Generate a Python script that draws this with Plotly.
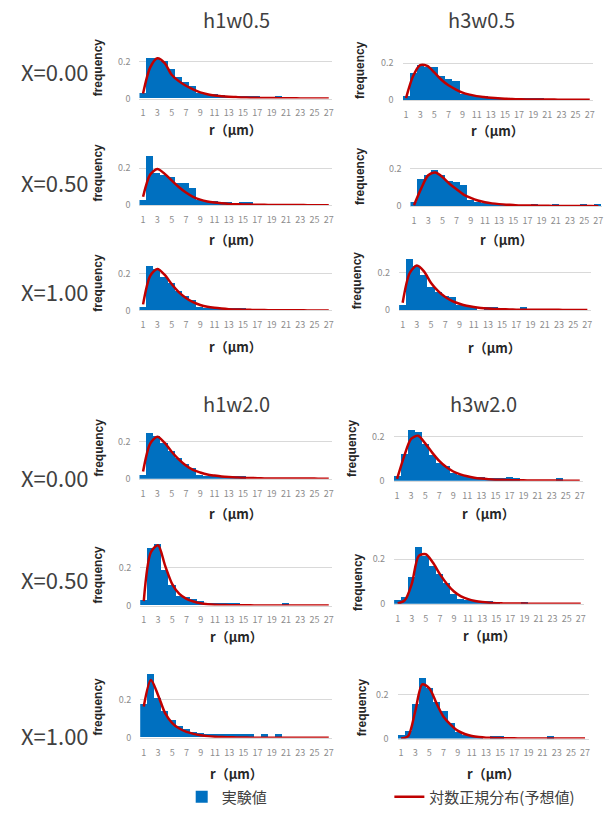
import plotly.graph_objects as go

# ---------------- data ----------------
r_um = list(range(1, 28))
tick_vals = list(range(1, 28, 2))
tick_text = [str(v) for v in tick_vals]

col_titles = ["h1w0.5", "h3w0.5", "h1w2.0", "h3w2.0"]
row_labels = ["X=0.00", "X=0.50", "X=1.00"]
bar_name = "実験値"
line_name = "対数正規分布(予想値)"

# measured frequency (bars)
h1w05_x000 = [0.029, 0.22, 0.22, 0.20, 0.159, 0.117, 0.09, 0.068, 0.029, 0.022, 0.02, 0.018, 0.014, 0.014,
              0.014, 0.014, 0.014, 0, 0, 0.014, 0, 0, 0, 0, 0, 0, 0]
h3w05_x000 = [0.025, 0.146, 0.19, 0.178, 0.178, 0.133, 0.117, 0.103, 0.034, 0.029, 0.02, 0.02, 0.013, 0.013,
              0.013, 0.013, 0.013, 0.013, 0.013, 0.013, 0, 0, 0, 0, 0, 0, 0]
h1w05_x050 = [0.025, 0.26, 0.17, 0.16, 0.15, 0.116, 0.116, 0.09, 0.025, 0.018, 0.018, 0.014, 0.014, 0,
              0.014, 0.014, 0, 0, 0, 0, 0, 0, 0, 0, 0, 0, 0]
h3w05_x050 = [0.023, 0.143, 0.168, 0.195, 0.165, 0.133, 0.129, 0.111, 0.032, 0.023, 0.018, 0.014, 0.011, 0.011,
              0.011, 0, 0, 0.011, 0, 0, 0.011, 0, 0, 0, 0.011, 0, 0.011]
h1w05_x100 = [0.018, 0.247, 0.229, 0.187, 0.151, 0.109, 0.082, 0.058, 0.018, 0.013, 0.013, 0.013, 0.013, 0.013,
              0.013, 0, 0, 0, 0, 0, 0, 0, 0, 0, 0, 0, 0]
h3w05_x100 = [0.025, 0.275, 0.236, 0.186, 0.123, 0.093, 0.075, 0.066, 0.025, 0.018, 0.014, 0, 0.012, 0.012,
              0, 0, 0, 0.012, 0, 0, 0, 0, 0, 0, 0, 0, 0]
h1w20_x000 = [0.02, 0.245, 0.23, 0.191, 0.15, 0.109, 0.08, 0.057, 0.02, 0.0125, 0.0125, 0.0125, 0.0125, 0.0125,
              0.0125, 0, 0, 0, 0, 0, 0, 0, 0, 0, 0, 0, 0]
h3w20_x000 = [0.023, 0.122, 0.233, 0.224, 0.167, 0.117, 0.083, 0.069, 0.038, 0.027, 0.023, 0.02, 0.017, 0.015,
              0.015, 0.015, 0.017, 0.014, 0, 0, 0, 0, 0, 0.014, 0, 0, 0]
h1w20_x050 = [0.026, 0.304, 0.325, 0.188, 0.108, 0.052, 0.043, 0.033, 0.021, 0.014, 0.014, 0.014, 0.014, 0.014,
              0, 0, 0, 0, 0, 0, 0.014, 0, 0, 0, 0, 0, 0]
h3w20_x050 = [0.018, 0.033, 0.119, 0.255, 0.215, 0.17, 0.136, 0.096, 0.044, 0.022, 0.016, 0.015, 0.015, 0.013,
              0.01, 0, 0, 0, 0.01, 0, 0, 0, 0, 0, 0, 0, 0]
h1w20_x100 = [0.174, 0.334, 0.205, 0.139, 0.092, 0.061, 0.047, 0.031, 0.021, 0.016, 0.016, 0.016, 0.016, 0.016,
              0.016, 0.016, 0, 0.016, 0, 0.016, 0, 0, 0, 0, 0, 0, 0]
h3w20_x100 = [0.015, 0.036, 0.158, 0.279, 0.23, 0.167, 0.124, 0.071, 0.03, 0.015, 0.011, 0.011, 0, 0.011,
              0.011, 0, 0, 0, 0, 0, 0, 0.011, 0, 0, 0, 0, 0]

# lognormal prediction (curve)
fit_h1w05_x000 = [0.027, 0.17, 0.22, 0.195, 0.13, 0.095, 0.07, 0.05, 0.034, 0.024, 0.017, 0.013, 0.01, 0.008,
                  0.006, 0.005, 0.004, 0.003, 0.003, 0.002, 0.002, 0.002, 0.001, 0.001, 0.001, 0.001, 0.001]
fit_h3w05_x000 = [0.01, 0.13, 0.19, 0.185, 0.15, 0.11, 0.08, 0.058, 0.04, 0.029, 0.021, 0.016, 0.012, 0.009,
                  0.007, 0.005, 0.004, 0.003, 0.003, 0.002, 0.002, 0.002, 0.001, 0.001, 0.001, 0.001, 0.001]
fit_h1w05_x050 = [0.045, 0.165, 0.195, 0.17, 0.134, 0.098, 0.068, 0.045, 0.03, 0.02, 0.014, 0.01, 0.007, 0.005,
                  0.004, 0.003, 0.002, 0.002, 0.001, 0.001, 0.001, 0.001, 0.001, 0.0, 0.0, 0.0, 0.0]
fit_h3w05_x050 = [0.005, 0.094, 0.165, 0.18, 0.156, 0.12, 0.09, 0.062, 0.044, 0.03, 0.021, 0.015, 0.011, 0.008,
                  0.006, 0.004, 0.003, 0.003, 0.002, 0.002, 0.001, 0.001, 0.001, 0.001, 0.001, 0.001, 0.0]
fit_h1w05_x100 = [0.033, 0.19, 0.227, 0.196, 0.145, 0.1, 0.068, 0.045, 0.03, 0.02, 0.014, 0.01, 0.007, 0.005,
                  0.004, 0.003, 0.002, 0.002, 0.001, 0.001, 0.001, 0.001, 0.001, 0.0, 0.0, 0.0, 0.0]
fit_h3w05_x100 = [0.039, 0.2, 0.24, 0.209, 0.146, 0.102, 0.07, 0.048, 0.034, 0.023, 0.016, 0.011, 0.008, 0.006,
                  0.004, 0.003, 0.002, 0.002, 0.001, 0.001, 0.001, 0.001, 0.001, 0.0, 0.0, 0.0, 0.0]
fit_h1w20_x000 = [0.039, 0.19, 0.227, 0.195, 0.146, 0.105, 0.072, 0.048, 0.034, 0.023, 0.017, 0.012, 0.009, 0.007,
                  0.005, 0.004, 0.003, 0.002, 0.002, 0.001, 0.001, 0.001, 0.001, 0.001, 0.001, 0.0, 0.0]
fit_h3w20_x000 = [0.008, 0.11, 0.19, 0.205, 0.17, 0.128, 0.09, 0.062, 0.042, 0.029, 0.02, 0.014, 0.01, 0.007,
                  0.005, 0.004, 0.003, 0.002, 0.002, 0.001, 0.001, 0.001, 0.001, 0.001, 0.0, 0.0, 0.0]
fit_h1w20_x050 = [0.023, 0.28, 0.317, 0.21, 0.113, 0.061, 0.035, 0.021, 0.012, 0.007, 0.004, 0.003, 0.002, 0.001,
                  0.001, 0.001, 0.0, 0.0, 0.0, 0.0, 0.0, 0.0, 0.0, 0.0, 0.0, 0.0, 0.0]
fit_h3w20_x050 = [0.0015, 0.015, 0.089, 0.215, 0.222, 0.185, 0.133, 0.089, 0.055, 0.033, 0.021, 0.013, 0.008, 0.005,
                  0.003, 0.002, 0.001, 0.001, 0.001, 0.0, 0.0, 0.0, 0.0, 0.0, 0.0, 0.0, 0.0]
fit_h1w20_x100 = [0.165, 0.304, 0.226, 0.13, 0.078, 0.049, 0.031, 0.021, 0.014, 0.009, 0.006, 0.004, 0.003, 0.002,
                  0.002, 0.001, 0.001, 0.001, 0.0, 0.0, 0.0, 0.0, 0.0, 0.0, 0.0, 0.0, 0.0]
fit_h3w20_x100 = [0.0, 0.011, 0.124, 0.248, 0.23, 0.162, 0.1, 0.064, 0.036, 0.021, 0.012, 0.007, 0.004, 0.003,
                  0.002, 0.001, 0.001, 0.0, 0.0, 0.0, 0.0, 0.0, 0.0, 0.0, 0.0, 0.0, 0.0]

panels = [
    (h1w05_x000, fit_h1w05_x000), (h3w05_x000, fit_h3w05_x000),
    (h1w05_x050, fit_h1w05_x050), (h3w05_x050, fit_h3w05_x050),
    (h1w05_x100, fit_h1w05_x100), (h3w05_x100, fit_h3w05_x100),
    (h1w20_x000, fit_h1w20_x000), (h3w20_x000, fit_h3w20_x000),
    (h1w20_x050, fit_h1w20_x050), (h3w20_x050, fit_h3w20_x050),
    (h1w20_x100, fit_h1w20_x100), (h3w20_x100, fit_h3w20_x100),
]

# ---------------- layout geometry (pixels) ----------------
W, H = 613, 817
# (centre of category 1, centre of category 27, y of 0, y of 0.2, axis max)
geom = [
    (143.3, 329.3, 99.3, 62.3, 0.3), (406.7, 590.7, 100.7, 63.7, 0.3),
    (143.3, 329.3, 206.7, 169.3, 0.3), (414.7, 599.3, 207.7, 170.0, 0.3),
    (143.3, 329.3, 312.7, 276.0, 0.3), (403.3, 588.3, 312.3, 275.0, 0.3),
    (143.3, 329.3, 482.3, 445.0, 0.3), (397.7, 580.7, 484.3, 440.0, 0.3),
    (144.0, 329.3, 610.0, 571.7, 0.36), (398.3, 581.7, 608.3, 563.3, 0.3),
    (144.0, 329.3, 743.3, 705.0, 0.36), (401.7, 586.0, 744.0, 700.0, 0.3),
]
freq_label = [(98, 68), (361, 70), (98, 174), (360, 177), (98, 285), (358, 282),
              (99, 451), (352, 451), (98, 579), (358, 586), (98, 712), (362, 712)]
rlabel_y = [130, 131, 241, 241, 349, 350, 517, 517, 641, 640, 779, 779]

def px(x):
    return x / W

def py(y):
    return 1 - y / H

BLUE = "#0070C0"
RED = "#C00000"
GRID = "#D9D9D9"
TICK = "#8C8C8C"
FONT = "Noto Sans CJK JP"

fig = go.Figure()
layout = {}
annotations = []

for i, ((bars, fit), g) in enumerate(zip(panels, geom)):
    k = i + 1
    xa = "x" if k == 1 else f"x{k}"
    ya = "y" if k == 1 else f"y{k}"
    fig.add_trace(go.Bar(
        x=r_um, y=bars, xaxis=xa, yaxis=ya, width=1.0,
        marker=dict(color=BLUE, line=dict(width=0)),
        name=bar_name, showlegend=(k == 1), legend="legend"))
    fig.add_trace(go.Scatter(
        x=r_um, y=fit, xaxis=xa, yaxis=ya, mode="lines",
        line=dict(color=RED, width=2.5, shape="spline", smoothing=0.8),
        name=line_name, showlegend=(k == 1), legend="legend2"))

    c1, c27, y0, y2, R = g
    d = (c27 - c1) / 26
    top = y0 - (y0 - y2) * R / 0.2
    layout["xaxis" if k == 1 else f"xaxis{k}"] = dict(
        domain=[px(c1 - d / 2), px(c27 + d / 2)], range=[0.5, 27.5], anchor=ya,
        tickmode="array", tickvals=tick_vals, ticktext=tick_text,
        showgrid=False, zeroline=False, showline=True, linecolor=GRID, linewidth=1,
        ticks="", ticklabelstandoff=6, tickfont=dict(size=9, color=TICK, family=FONT),
        fixedrange=True)
    layout["yaxis" if k == 1 else f"yaxis{k}"] = dict(
        domain=[py(y0), py(top)], range=[0, R], anchor=xa,
        tickmode="array", tickvals=[0, 0.2], ticktext=["0", "0.2"],
        showgrid=True, gridcolor=GRID, gridwidth=1, zeroline=False, showline=False,
        ticks="", ticklabelstandoff=8, tickfont=dict(size=9, color=TICK, family=FONT),
        fixedrange=True)

    fx, fy = freq_label[i]
    annotations.append(dict(x=px(fx), y=py(fy), xref="paper", yref="paper", text="<b>frequency</b>",
                            textangle=-90, showarrow=False, xanchor="center", yanchor="middle",
                            font=dict(size=12, color="#262626", family="Liberation Sans")))
    annotations.append(dict(x=px((c1 + c27) / 2), y=py(rlabel_y[i]), xref="paper", yref="paper",
                            text="<b>r（μm）</b>", showarrow=False, xanchor="center", yanchor="middle",
                            font=dict(size=13, color="#262626", family=FONT)))

# column titles
for t, (x, y) in zip(col_titles, [(237, 20), (482, 20), (237, 406), (484, 406)]):
    annotations.append(dict(x=px(x), y=py(y), xref="paper", yref="paper", text=t, showarrow=False,
                            xanchor="center", yanchor="middle",
                            font=dict(size=20, color="#404040", family=FONT)))
# row labels
for t, y in zip(row_labels * 2, [72, 183, 293, 481, 583, 740]):
    annotations.append(dict(x=px(55), y=py(y), xref="paper", yref="paper", text=t, showarrow=False,
                            xanchor="center", yanchor="middle",
                            font=dict(size=22, color="#404040", family=FONT)))

fig.update_layout(
    width=W, height=H, margin=dict(l=0, r=0, t=0, b=0),
    paper_bgcolor="white", plot_bgcolor="white",
    bargap=0, barmode="overlay",
    font=dict(family=FONT, color="#404040"),
    annotations=annotations,
    legend=dict(x=px(182), y=py(803), xanchor="left", yanchor="middle", orientation="h",
                font=dict(size=15, color="#404040", family=FONT), bgcolor="rgba(0,0,0,0)"),
    legend2=dict(x=px(390), y=py(803), xanchor="left", yanchor="middle", orientation="h",
                 font=dict(size=15, color="#404040", family=FONT), bgcolor="rgba(0,0,0,0)"),
    **layout,
)

fig.write_html("out.html", config={"displayModeBar": False},
               post_script="document.body.style.margin='0';")
